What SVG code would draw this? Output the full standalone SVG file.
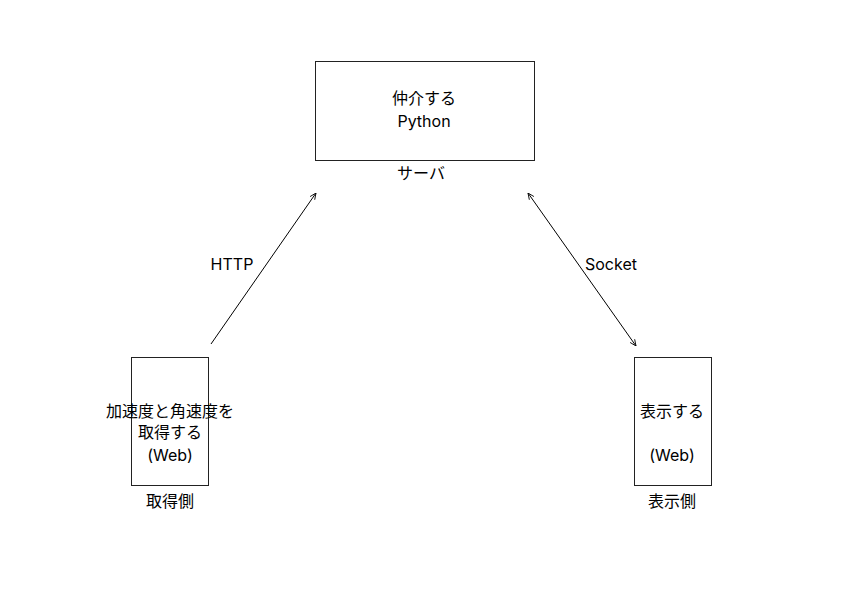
<svg xmlns="http://www.w3.org/2000/svg" width="843" height="596" viewBox="0 0 843 596">
<style>
.box{fill:#fff;stroke:#222;stroke-width:1}
text{font-family:Inter,"Noto Sans CJK JP",sans-serif;font-size:16px;fill:#000;text-anchor:middle;dominant-baseline:central}
.edge{stroke:#000;stroke-width:1;fill:none}
</style>
<defs>
<marker id="ah" viewBox="0 0 10 10" refX="10" refY="5" markerWidth="7" markerHeight="7" orient="auto-start-reverse" markerUnits="userSpaceOnUse">
<path d="M1,1 L10,5 L1,9" fill="none" stroke="#000" stroke-width="1.2"/>
</marker>
</defs>
<rect width="843" height="596" fill="#fff"/>
<g id="edges">
<line class="edge" x1="211" y1="344" x2="316" y2="193" marker-end="url(#ah)"/>
<text x="232" y="264">HTTP</text>
<line class="edge" x1="528" y1="193" x2="636" y2="346" marker-start="url(#ah)" marker-end="url(#ah)"/>
<text x="611" y="264">Socket</text>
</g>
<g id="server">
<rect class="box" x="315.5" y="61.5" width="219" height="99"/>
<text x="424" y="98">仲介する</text>
<text x="424" y="121">Python</text>
<text x="421" y="173">サーバ</text>
</g>
<g id="acquire">
<rect class="box" x="131.5" y="357.5" width="77" height="128"/>
<text x="170" y="411">加速度と角速度を</text>
<text x="170" y="432">取得する</text>
<text x="170" y="455">(Web)</text>
<text x="170" y="501">取得側</text>
</g>
<g id="display">
<rect class="box" x="634.5" y="357.5" width="77" height="128"/>
<text x="672" y="411">表示する</text>
<text x="672" y="455">(Web)</text>
<text x="672" y="501">表示側</text>
</g>
</svg>
